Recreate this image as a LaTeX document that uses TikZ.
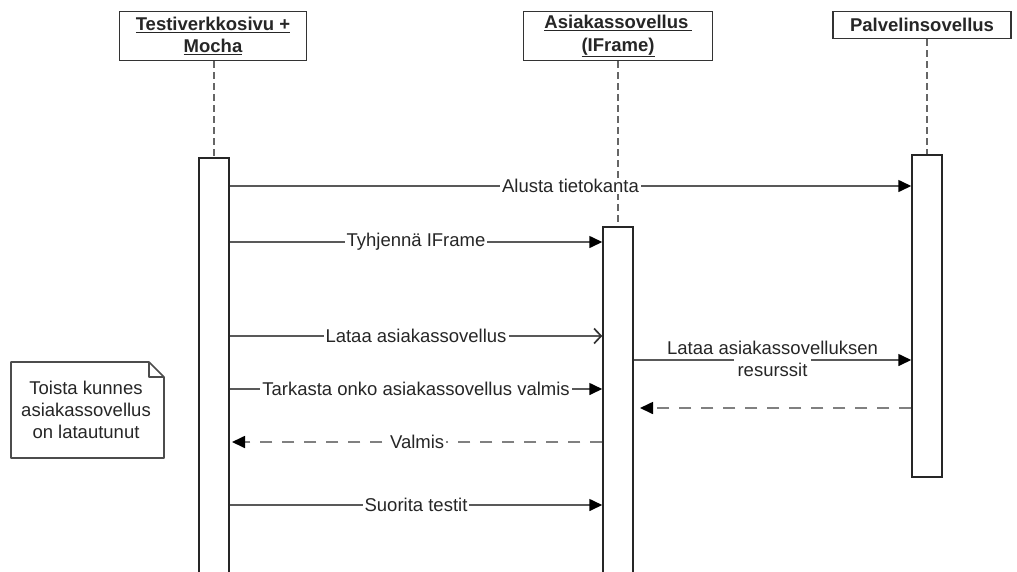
\documentclass[tikz,border=0pt]{standalone}
\usepackage{fontspec}
\setmainfont{Liberation Sans}
\usetikzlibrary{arrows.meta}
\begin{document}
\begin{tikzpicture}[x=1pt,y=-1pt,
  every node/.style={font=\fontsize{18.5}{22}\selectfont, text=black!85},
  head/.style={draw=black!80, line width=1.6pt, fill=white, inner sep=0pt, align=center,
    font=\fontsize{18.5}{22.5}\selectfont\bfseries},
  bar/.style={draw=black!85, line width=1.5pt, fill=white, minimum width=30pt, inner sep=0pt},
  life/.style={draw=black!60, line width=1.8pt, dash pattern=on 7pt off 4pt},
  tip/.style={-{Triangle[length=13pt,width=12pt,fill=black,color=black]}},
  msg/.style={draw=black!65, line width=1.6pt, tip},
  openmsg/.style={draw=black!65, line width=1.6pt, -{Straight Barb[length=7pt,width=15pt,line width=1.7pt,color=black!80]}},
  ret/.style={draw=black!50, line width=1.7pt, dash pattern=on 12pt off 10pt, tip},
  lbl/.style={fill=white, inner xsep=2pt, inner ysep=1pt}
]
\useasboundingbox (0,0) rectangle (1017,571);
\begin{scope}
\clip (0,0) rectangle (1017,571);

% participant headers
\node[head, minimum width=187pt, minimum height=49pt] (h1) at (213,36)
  {\underline{Testiverkkosivu +}\\\underline{Mocha}};
\node[head, minimum width=189pt, minimum height=49pt] (h2) at (618,36)
  {\underline{Asiakassovellus\,}\\\underline{(IFrame)}};
\node[head, minimum width=178pt, minimum height=27pt] (h3) at (922,25)
  {Palvelinsovellus};

% activation bars
\node[bar, minimum height=424pt, anchor=north] (a1) at (214,157) {};
\node[bar, minimum height=350pt, anchor=north] (a2) at (618,226) {};
\node[bar, minimum height=322pt, anchor=north] (a3) at (927,154) {};

% lifelines
\draw[life] (h1.south -| a1.north) -- (a1.north);
\draw[life] (h2.south -| a2.north) -- (a2.north);
\draw[life] (h3.south -| a3.north) -- (a3.north);

% messages
\draw[msg] (a1.east |- 0,186) -- node[lbl]{Alusta tietokanta} (a3.west |- 0,186);
\draw[msg] (a1.east |- 0,242) -- node[lbl]{Tyhjennä IFrame} (a2.west |- 0,242);
\draw[openmsg] (a1.east |- 0,336) -- node[lbl]{Lataa asiakassovellus} (a2.west |- 0,336);
\draw[msg] (a2.east |- 0,360) --
  node[fill=white, minimum width=77pt, minimum height=4pt, inner sep=0pt]{}
  node[align=center, inner sep=0pt, yshift=1pt]{Lataa asiakassovelluksen\\resurssit}
  (a3.west |- 0,360);
\draw[msg] (a1.east |- 0,389) -- node[lbl]{Tarkasta onko asiakassovellus valmis} (a2.west |- 0,389);
\coordinate (r1) at (640,408);
\draw[ret] (a3.west |- 0,408) -- (r1);
\coordinate (r2) at (232,442);
\draw[ret] (a2.west |- 0,442) -- node[lbl]{Valmis} (r2);
\draw[msg] (a1.east |- 0,505) -- node[lbl]{Suorita testit} (a2.west |- 0,505);

% note
\draw[draw=black!70, line width=1.6pt, fill=white, line join=round]
  (11,362) -- (149,362) -- (164,377) -- (164,458) -- (11,458) -- cycle;
\draw[draw=black!70, line width=1.4pt, line join=round] (149,362) -- (149,377) -- (164,377);
\node[align=center] (note) at (86,410) {Toista kunnes\\asiakassovellus\\on latautunut};
\end{scope}
\end{tikzpicture}
\end{document}
